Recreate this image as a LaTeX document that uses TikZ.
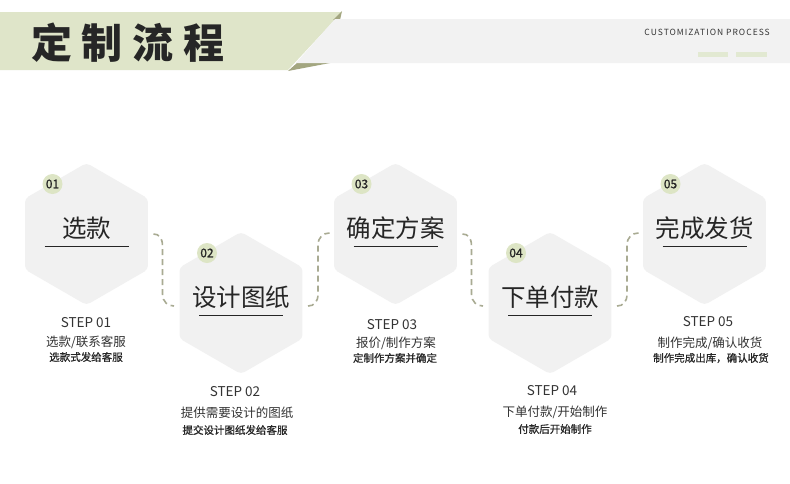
\documentclass[tikz,border=0pt]{standalone}
\usepackage{fontspec}
\setmainfont{Noto Sans CJK SC}
\newfontfamily\titlefont[LetterSpace=24]{Noto Sans CJK SC}
\newfontfamily\capsfont[LetterSpace=12]{Noto Sans CJK SC}
\newfontfamily\medfont[FakeBold=1]{Noto Sans CJK SC}
\usetikzlibrary{shapes.geometric,calc}
\definecolor{hexgray}{HTML}{F1F1F1}
\definecolor{bandgray}{HTML}{F2F2F2}
\definecolor{bandgreen}{HTML}{DFE5C9}
\definecolor{folddark}{HTML}{A3A680}
\definecolor{dotgreen}{HTML}{DDE5C5}
\definecolor{bargreen}{HTML}{E2E9D2}
\definecolor{dashcol}{HTML}{A9AB93}
\definecolor{txtdark}{HTML}{262626}
\definecolor{txtmid}{HTML}{333333}
\begin{document}
\begin{tikzpicture}[x=1pt,y=-1pt,
  hexa/.style={regular polygon, regular polygon sides=6, shape border rotate=30,
    minimum size=142pt, inner sep=0pt, fill=hexgray, rounded corners=4pt},
  numdot/.style={circle, fill=dotgreen, minimum size=20pt, inner sep=0pt,
    font=\fontsize{12}{12}\selectfont\medfont, text=txtdark},
  ttl/.style={font=\fontsize{24.5}{25}\selectfont, text=txtdark, inner sep=0pt},
  uline/.style={draw=txtdark, line width=0.9pt},
  steplbl/.style={font=\fontsize{13.5}{14}\selectfont, text=txtmid, inner sep=0pt},
  subone/.style={font=\fontsize{12.5}{13}\selectfont, text=txtmid, inner sep=0pt},
  subtwo/.style={font=\fontsize{10.5}{11}\selectfont\medfont, text=txtdark, inner sep=0pt},
  conn/.style={draw=dashcol, line width=1.6pt, dash pattern=on 6pt off 4pt}]
\useasboundingbox (0,0) rectangle (790,483);
\fill[white] (0,0) rectangle (790,483);

% header
\fill[bandgreen] (0,12) -- (342,12) -- (288,70) -- (0,70) -- cycle;
\fill[folddark] (333,20) -- (342,11) -- (340,20) -- cycle;
\fill[folddark] (288,71) -- (297,63) -- (330,63) -- cycle;
\fill[bandgray] (335,19) -- (790,19) -- (790,63) -- (296,63) -- cycle;
\node[anchor=west, inner sep=0pt, text=txtdark, font=\fontsize{41}{41}\selectfont\titlefont\bfseries] (title) at (31,43) {定制流程};
\node[anchor=east, inner sep=0pt, text=txtmid, font=\fontsize{8.5}{8.5}\selectfont\capsfont] (cap) at (770,32) {CUSTOMIZATION PROCESS};
\fill[bargreen] (698,52) rectangle (728,57);
\fill[bargreen] (736,52) rectangle (767,57);

% hexagons
\node[hexa] (h1) at (86.5,234) {};
\node[hexa] (h2) at (241,303) {};
\node[hexa] (h3) at (395.5,234) {};
\node[hexa] (h4) at (550,303) {};
\node[hexa] (h5) at (704.5,234) {};

% connectors
\coordinate (s1) at ($(h1.center)+(67,0)$);
\coordinate (e1) at ($(h2.center)+(-67,3)$);
\coordinate (s2) at ($(h2.center)+(67,3)$);
\coordinate (e2) at ($(h3.center)+(-66,-1)$);
\coordinate (s3) at ($(h3.center)+(67,0)$);
\coordinate (e3) at ($(h4.center)+(-67,3)$);
\coordinate (s4) at ($(h4.center)+(67,3)$);
\coordinate (e4) at ($(h5.center)+(-66,-1)$);
\foreach \a/\b in {s1/e1,s3/e3}{
  \draw[conn] (\a) .. controls ($(\a)+(5.5,0)$) and ($(\a)+(9,4)$) .. ($(\a)+(9,12)$)
    -- ($(\b)+(-11.5,-12)$) .. controls ($(\b)+(-11.5,-4)$) and ($(\b)+(-6,0)$) .. (\b);
}
\foreach \a/\b in {s2/e2,s4/e4}{
  \draw[conn] (\a) .. controls ($(\a)+(6,0)$) and ($(\a)+(10,-4)$) .. ($(\a)+(10,-12)$)
    -- ($(\b)+(-11.5,12)$) .. controls ($(\b)+(-11.5,4)$) and ($(\b)+(-6,0)$) .. (\b);
}

% hexagon contents
\foreach \h/\n/\t in {h1/01/选款, h2/02/设计图纸, h3/03/确定方案, h4/04/下单付款, h5/05/完成发货}{
  \node[numdot] (d\h) at ($(\h.center)+(-34,-50)$) {\n};
  \node[ttl] (t\h) at ($(\h.center)+(0,-6)$) {\t};
  \coordinate (ula\h) at ($(\h.center)+(-42,12.5)$);
  \coordinate (ulb\h) at ($(\h.center)+(42,12.5)$);
  \draw[uline] (ula\h) -- (ulb\h);
}

% step labels
\node[steplbl] (st1) at (86,323) {STEP 01};
\node[subone] (sa1) at (86,342) {选款/联系客服};
\node[subtwo] (sb1) at (86,357) {选款式发给客服};

\node[steplbl] (st2) at (235,392) {STEP 02};
\node[subone] (sa2) at (237,413) {提供需要设计的图纸};
\node[subtwo] (sb2) at (235,430) {提交设计图纸发给客服};

\node[steplbl] (st3) at (392,325) {STEP 03};
\node[subone] (sa3) at (396,343) {报价/制作方案};
\node[subtwo] (sb3) at (395,358) {定制作方案并确定};

\node[steplbl] (st4) at (552,391) {STEP 04};
\node[subone] (sa4) at (555,412) {下单付款/开始制作};
\node[subtwo] (sb4) at (555,429) {付款后开始制作};

\node[steplbl] (st5) at (708,322) {STEP 05};
\node[subone] (sa5) at (710,343) {制作完成/确认收货};
\node[subtwo] (sb5) at (711,358) {制作完成出库，确认收货};
\end{tikzpicture}
\end{document}
